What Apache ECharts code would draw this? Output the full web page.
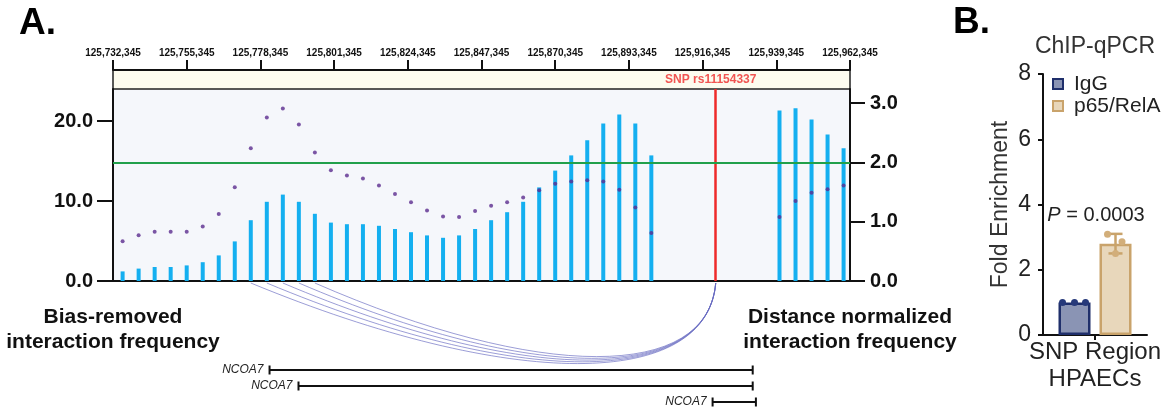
<!DOCTYPE html>
<html><head><meta charset="utf-8">
<script src="https://cdn.jsdelivr.net/npm/echarts@6/dist/echarts.min.js"></script>
<style>html,body{margin:0;padding:0;background:#fff}#c{width:1167px;height:410px}</style>
</head><body><div id="c"></div>
<script>
const FONT = '"Liberation Sans", Arial, Helvetica, sans-serif';

// ---------- Panel A data ----------
const regionStart = 125732345;
const regionEnd = 125962345;
const rulerStep = 23000;
const binCenters = [
  125735345,125740345,125745345,125750345,125755345,125760345,125765345,125770345,
  125775345,125780345,125785345,125790345,125795345,125800345,125805345,125810345,
  125815345,125820345,125825345,125830345,125835345,125840345,125845345,125850345,
  125855345,125860345,125865345,125870345,125875345,125880345,125885345,125890345,
  125895345,125900345,
  125940345,125945345,125950345,125955345,125960345
];
const biasRemoved = [
  1.2,1.55,1.75,1.75,1.95,2.35,3.2,4.95,
  7.6,9.9,10.8,9.9,8.4,7.3,7.1,7.1,
  6.9,6.5,6.1,5.7,5.4,5.7,6.5,7.6,
  8.6,9.9,11.7,13.8,15.7,17.6,19.7,20.8,
  19.7,15.7,
  21.3,21.6,20.2,18.3,16.6
];
const distanceNormalized = [
  0.67,0.77,0.83,0.83,0.83,0.92,1.13,1.58,
  2.24,2.76,2.91,2.64,2.17,1.87,1.78,1.73,
  1.61,1.47,1.33,1.19,1.09,1.08,1.18,1.27,
  1.33,1.41,1.53,1.64,1.68,1.70,1.68,1.54,
  1.24,0.81,
  1.08,1.35,1.49,1.55,1.61
];
const snpName = 'SNP rs11154337';
const snpPosition = 125920445;
const threshold = 2.0;
const arcStarts = [125775345,125780345,125785345,125790345,125795345];
const geneNames = ['NCOA7','NCOA7','NCOA7'];
const geneStarts = [125781200,125790235,125919465];
const geneEnds = [125931981,125931981,125932980];
const leftTicks = [0,10,20];
const rightTicks = [0,1,2,3];
const leftAxisTitle = 'Bias-removed\ninteraction frequency';
const rightAxisTitle = 'Distance normalized\ninteraction frequency';

// ---------- Panel B data ----------
const chipTitle = 'ChIP-qPCR';
const chipCategories = ['SNP Region\nHPAECs'];
const chipGroups = ['IgG','p65/RelA'];
const chipMeans = [1.0, 2.8];
const chipSD = [0, 0.3];
const chipReplicates = [[1.0,1.0,1.0],[3.09,2.86,2.5]];
const chipPValue = '0.0003';

// ---------- styles ----------
const fillColors = ['#8a94b4','#e8d7bb'];
const edgeColors = ['#1f2f6b','#c9a36b'];
const dotColors = ['#26397a','#d2ae7a'];
const jitter = [[-12,0,11],[-8,6.5,0]];
const chipBarWidth = 32, chipBarGapPx = 9;

function fmt(n){ return String(n).replace(/\B(?=(\d{3})+(?!\d))/g, ','); }
const off = p => p - regionStart;
const span = regionEnd - regionStart;

const chart = echarts.init(document.getElementById('c'), null, {renderer:'canvas'});

const blackLine = {lineStyle:{color:'#111', width:2}};

const option = {
  animation:false,
  textStyle:{fontFamily:FONT},
  grid:[
    {left:113, right:317, top:89, height:192, show:true, backgroundColor:'#f5f7fb', borderWidth:0},
    {left:113, right:317, top:70, height:19, show:true, backgroundColor:'#fdfcef', borderColor:'#222', borderWidth:1.5},
    {left:113, right:317, top:362, height:48, show:false},
    {left:1043, right:20, top:74, bottom:75, show:false}
  ],
  xAxis:[
    {type:'value', gridIndex:0, min:0, max:span, axisLine:{show:true, onZero:false, ...blackLine}, axisTick:{show:false}, axisLabel:{show:false}, splitLine:{show:false}},
    {type:'value', gridIndex:1, position:'top', min:0, max:span, interval:rulerStep,
      axisLine:{show:true, onZero:false, lineStyle:{color:'#111', width:2}},
      axisTick:{show:true, inside:false, length:10, lineStyle:{color:'#111', width:2}},
      axisLabel:{show:true, margin:12, fontSize:10, fontWeight:'bold', color:'#111', fontFamily:FONT, showMinLabel:true, showMaxLabel:true, formatter:v=>fmt(v+regionStart)},
      splitLine:{show:false}},
    {type:'value', gridIndex:2, min:0, max:span, show:false},
    {type:'category', gridIndex:3, data:chipCategories,
      axisLine:{show:true, lineStyle:{color:'#111', width:2}},
      axisTick:{show:true, alignWithLabel:true, length:5, lineStyle:{color:'#111', width:2}},
      axisLabel:{fontSize:24, lineHeight:27, color:'#222', margin:4, fontFamily:FONT}}
  ],
  yAxis:[
    {type:'value', gridIndex:0, min:0, max:24, position:'left',
      axisLine:{show:true, ...blackLine},
      axisTick:{show:true, length:16, customValues:leftTicks, lineStyle:{color:'#111', width:2}},
      axisLabel:{customValues:leftTicks, margin:20, fontSize:20, fontWeight:'bold', color:'#111', fontFamily:FONT, formatter:v=>v.toFixed(1)},
      splitLine:{show:false}},
    {type:'value', gridIndex:0, min:0, max:3.24, position:'right',
      axisLine:{show:true, ...blackLine},
      axisTick:{show:true, length:15, customValues:rightTicks, lineStyle:{color:'#111', width:2}},
      axisLabel:{customValues:rightTicks, margin:20, fontSize:20, fontWeight:'bold', color:'#111', fontFamily:FONT, formatter:v=>v.toFixed(1)},
      splitLine:{show:false}},
    {type:'value', gridIndex:1, min:0, max:1, show:false},
    {type:'category', gridIndex:2, data:geneNames.map((g,i)=>String(i)), inverse:true, show:false},
    {type:'value', gridIndex:3, min:0, max:8, interval:2,
      axisLine:{show:true, lineStyle:{color:'#111', width:2}},
      axisTick:{show:true, length:5, lineStyle:{color:'#111', width:2}},
      axisLabel:{fontSize:23, color:'#222', margin:12, fontFamily:FONT},
      splitLine:{show:false},
      name:'Fold Enrichment', nameLocation:'middle', nameGap:31, nameRotate:90,
      nameTextStyle:{fontSize:23, color:'#333', fontFamily:FONT}}
  ],
  legend:{
    data:chipGroups, orient:'vertical', left:1047, top:68, itemWidth:10, itemHeight:10, itemGap:0, icon:'rect',
    textStyle:{fontSize:21, lineHeight:22, color:'#222', fontFamily:FONT, padding:[0,0,0,6]}
  },
  series:[
    {type:'bar', name:'bias', xAxisIndex:0, yAxisIndex:0, barWidth:4,
      data:binCenters.map((p,i)=>[off(p), biasRemoved[i]]),
      itemStyle:{color:'#14aff0'},
      markLine:{silent:true, symbol:['none','none'], label:{show:false},
        lineStyle:{color:'#ee2a2a', width:2.5, type:'solid'},
        data:[{xAxis:off(snpPosition)}]}},
    {type:'scatter', name:'dist', xAxisIndex:0, yAxisIndex:1, symbolSize:4,
      data:binCenters.map((p,i)=>[off(p), distanceNormalized[i]]),
      itemStyle:{color:'#5b2c8f'}, z:5,
      markLine:{silent:true, symbol:['none','none'], label:{show:false},
        lineStyle:{color:'#21a04b', width:2, type:'solid'},
        data:[{yAxis:threshold}]}},
    {type:'custom', name:'arcs', xAxisIndex:0, yAxisIndex:0, clip:false, silent:true,
      data:arcStarts.map(s=>[off(s), 0, off(snpPosition)]),
      encode:{x:0, y:1},
      renderItem:(params, api)=>{
        const p0 = api.coord([api.value(0), 0]);
        const p1 = api.coord([api.value(2), 0]);
        const y0 = p0[1] + 2;
        const L = p1[0] - p0[0];
        const d = 40 + 0.145 * L;
        return {type:'bezierCurve',
          shape:{x1:p0[0], y1:y0, x2:p1[0], y2:y0, cpx1:p0[0]+0.56*L, cpy1:y0+d, cpx2:p1[0]-0.02*L, cpy2:y0+d},
          style:{stroke:'#6568c0', lineWidth:1, fill:'none', opacity:0.65}};
      }},
    {type:'scatter', name:'snp', xAxisIndex:1, yAxisIndex:2, symbolSize:0, silent:true,
      data:[[off(snpPosition), 0.5]],
      label:{show:true, position:'inside', offset:[-5,0], formatter:snpName, color:'#ee2a2a', fontSize:12, fontWeight:'bold', fontFamily:FONT}},
    {type:'custom', name:'genes', xAxisIndex:2, yAxisIndex:3, clip:false, silent:true,
      data:geneStarts.map((s,i)=>[off(s), i, off(geneEnds[i])]),
      encode:{x:0, y:1},
      renderItem:(params, api)=>{
        const s = api.coord([api.value(0), api.value(1)]);
        const e = api.coord([api.value(2), api.value(1)]);
        const y = s[1];
        const st = {stroke:'#111', lineWidth:2};
        return {type:'group', children:[
          {type:'line', shape:{x1:s[0], y1:y, x2:e[0], y2:y}, style:st},
          {type:'line', shape:{x1:s[0], y1:y-4.5, x2:s[0], y2:y+4.5}, style:st},
          {type:'line', shape:{x1:e[0], y1:y-4.5, x2:e[0], y2:y+4.5}, style:st},
          {type:'text', x:s[0]-6, y:y, style:{text:geneNames[params.dataIndex], fontStyle:'italic', fontSize:12, fontFamily:FONT, fill:'#222', align:'right', verticalAlign:'middle'}}
        ]};
      }},
    {type:'bar', name:chipGroups[0], xAxisIndex:3, yAxisIndex:4, barWidth:chipBarWidth, barGap:(chipBarGapPx/chipBarWidth*100)+'%',
      data:[chipMeans[0]], itemStyle:{color:fillColors[0], borderColor:edgeColors[0], borderWidth:2.5}},
    {type:'bar', name:chipGroups[1], xAxisIndex:3, yAxisIndex:4, barWidth:chipBarWidth,
      data:[chipMeans[1]], itemStyle:{color:fillColors[1], borderColor:edgeColors[1], borderWidth:2.5}},
    {type:'custom', name:'err', xAxisIndex:3, yAxisIndex:4, clip:false, silent:true, z:4,
      data:chipMeans.map((m,g)=>[0, m, chipSD[g], g]),
      encode:{x:0, y:1},
      renderItem:(params, api)=>{
        const g = api.value(3), sd = api.value(2), m = api.value(1);
        if (!sd) return null;
        const dx = (g===0?-1:1)*(chipBarWidth+chipBarGapPx)/2;
        const top = api.coord([0, m+sd]), bot = api.coord([0, m-sd]);
        const x = top[0] + dx;
        const st = {stroke:edgeColors[g], lineWidth:2.5};
        return {type:'group', children:[
          {type:'line', shape:{x1:x, y1:top[1], x2:x, y2:bot[1]}, style:st},
          {type:'line', shape:{x1:x-7, y1:top[1], x2:x+7, y2:top[1]}, style:st},
          {type:'line', shape:{x1:x-7, y1:bot[1], x2:x+7, y2:bot[1]}, style:st}
        ]};
      }},
    {type:'custom', name:'dots', xAxisIndex:3, yAxisIndex:4, clip:false, silent:true, z:5,
      data:chipReplicates.flatMap((arr,g)=>arr.map((v,r)=>[0, v, g, r])),
      encode:{x:0, y:1},
      renderItem:(params, api)=>{
        const g = api.value(2), r = api.value(3);
        const c = api.coord([0, api.value(1)]);
        const dx = (g===0?-1:1)*(chipBarWidth+chipBarGapPx)/2 + jitter[g][r];
        return {type:'circle', shape:{cx:c[0]+dx, cy:c[1], r:3.5}, style:{fill:dotColors[g]}};
      }}
  ],
  graphic:[
    {type:'text', x:19, y:24, style:{text:'A.', fontSize:37, fontWeight:'bold', fontFamily:FONT, fill:'#000', align:'left', verticalAlign:'middle'}},
    {type:'text', x:953, y:23, style:{text:'B.', fontSize:37, fontWeight:'bold', fontFamily:FONT, fill:'#000', align:'left', verticalAlign:'middle'}},
    {type:'text', x:113, y:329.5, style:{text:leftAxisTitle, fontSize:21, lineHeight:25, fontWeight:'bold', fontFamily:FONT, fill:'#111', align:'center', verticalAlign:'middle'}},
    {type:'text', x:850, y:329.5, style:{text:rightAxisTitle, fontSize:21, lineHeight:25, fontWeight:'bold', fontFamily:FONT, fill:'#111', align:'center', verticalAlign:'middle'}},
    {type:'text', x:1095, y:47, style:{text:chipTitle, fontSize:23, fontFamily:FONT, fill:'#333', align:'center', verticalAlign:'middle'}},
    {type:'text', x:1096, y:215, style:{text:'{i|P} = '+chipPValue, fontSize:20, fontFamily:FONT, fill:'#222', align:'center', verticalAlign:'middle',
      rich:{i:{fontStyle:'italic', fontSize:20, fontFamily:FONT, fill:'#222'}}}}
  ]
};
chart.setOption(option);
</script></body></html>
